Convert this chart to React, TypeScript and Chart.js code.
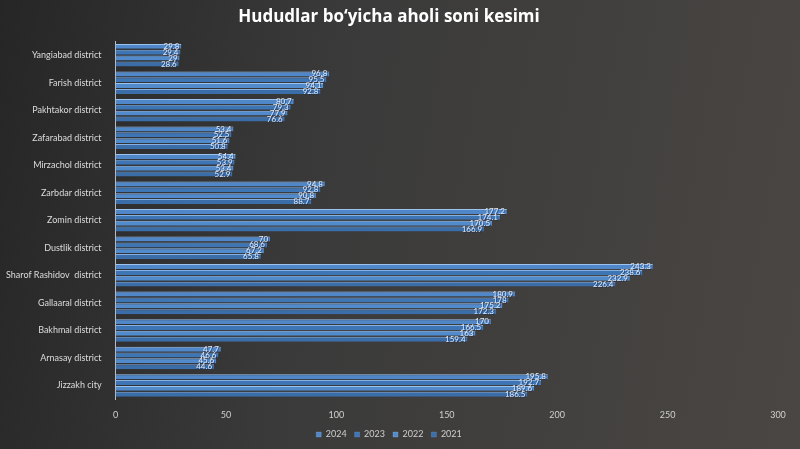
import React, { useEffect, useRef } from "react";
import { Chart, registerables } from "chart.js";

Chart.register(...registerables);

const districts = [
  "Yangiabad district",
  "Farish district",
  "Pakhtakor district",
  "Zafarabad district",
  "Mirzachol district",
  "Zarbdar district",
  "Zomin district",
  "Dustlik district",
  "Sharof Rashidov  district",
  "Gallaaral district",
  "Bakhmal district",
  "Arnasay district",
  "Jizzakh city",
];

const years = ["2024", "2023", "2022", "2021"];

const values2024 = [29.8, 96.8, 80.7, 53.4, 54.4, 94.8, 177.2, 70.0, 243.3, 180.9, 170.0, 47.7, 195.8];
const values2023 = [29.4, 95.5, 79.3, 52.5, 53.9, 92.8, 174.1, 68.6, 238.6, 178.0, 166.5, 46.6, 192.7];
const values2022 = [29.0, 94.1, 77.9, 51.6, 53.4, 90.8, 170.5, 67.2, 232.9, 175.2, 163.0, 45.6, 189.6];
const values2021 = [28.6, 92.8, 76.6, 50.8, 52.9, 88.7, 166.9, 65.8, 226.4, 172.3, 159.4, 44.6, 186.5];

const xTicks = [0, 50, 100, 150, 200, 250, 300];

const barColors = ["#4f87c8", "#3e75b4", "#528bcc", "#3b6ea9"];
const edgeColors = ["#9cc2ee", "#86b0e2", "#9cc2ee", "#86b0e2"];

const FONT = "Lato, 'Open Sans', sans-serif";

const valueLabels = {
  id: "valueLabels",
  afterDatasetsDraw(chart: any) {
    const ctx = chart.ctx;
    ctx.save();
    ctx.font = `8px ${FONT}`;
    ctx.textAlign = "right";
    ctx.textBaseline = "middle";
    chart.data.datasets.forEach((ds: any, i: number) => {
      const meta = chart.getDatasetMeta(i);
      meta.data.forEach((bar: any, j: number) => {
        const v = ds.data[j];
        ctx.fillStyle = "rgba(20,40,80,0.6)";
        ctx.fillText(String(v), bar.x - 1, bar.y + 1);
        ctx.fillStyle = "#e4ecf8";
        ctx.fillText(String(v), bar.x - 2, bar.y);
      });
    });
    ctx.restore();
  },
};

export default function App() {
  const canvasRef = useRef<HTMLCanvasElement | null>(null);

  useEffect(() => {
    if (!canvasRef.current) return;
    const series = [values2024, values2023, values2022, values2021];
    const chart = new Chart(canvasRef.current, {
      type: "bar",
      data: {
        labels: districts,
        datasets: years.map((y, i) => ({
          label: y,
          data: series[i],
          backgroundColor: barColors[i],
          borderColor: edgeColors[i],
          borderWidth: { top: 1, bottom: 0, left: 0, right: 0 },
          borderSkipped: false,
          categoryPercentage: 0.85,
          barPercentage: 0.85,
        })),
      },
      options: {
        indexAxis: "y",
        animation: false,
        responsive: false,
        maintainAspectRatio: false,
        layout: { padding: { left: 0, right: 22, top: 4, bottom: 0 } },
        scales: {
          x: {
            min: 0,
            max: 300,
            afterBuildTicks: (axis: any) => {
              axis.ticks = xTicks.map((v) => ({ value: v }));
            },
            grid: { display: false },
            border: { display: false },
            ticks: { color: "#d0d0d0", font: { family: FONT, size: 9 }, padding: 2 },
          },
          y: {
            grid: { display: false },
            border: { display: true, color: "#b8bcc4", width: 1 },
            ticks: { color: "#dcdcdc", font: { family: FONT, size: 9 }, padding: 6 },
          },
        },
        plugins: {
          title: {
            display: true,
            text: "Hududlar bo‘yicha aholi soni kesimi",
            color: "#ffffff",
            font: { family: "'Open Sans', sans-serif", size: 17, weight: "bold" },
            padding: { top: 3, bottom: 14 },
          },
          legend: {
            position: "bottom",
            labels: {
              color: "#cfcfcf",
              font: { family: FONT, size: 9 },
              boxWidth: 5,
              boxHeight: 5,
              padding: 8,
            },
          },
          tooltip: { enabled: false },
        },
      },
      plugins: [valueLabels],
    });
    return () => chart.destroy();
  }, []);

  return (
    <div
      style={{
        position: "fixed",
        left: 0,
        top: 0,
        width: 800,
        height: 449,
        background: "linear-gradient(100deg, #262626 0%, #3a3a3a 40%, #4a4643 100%)",
      }}
    >
      <canvas ref={canvasRef} width={800} height={449} style={{ width: 800, height: 449 }} />
    </div>
  );
}
